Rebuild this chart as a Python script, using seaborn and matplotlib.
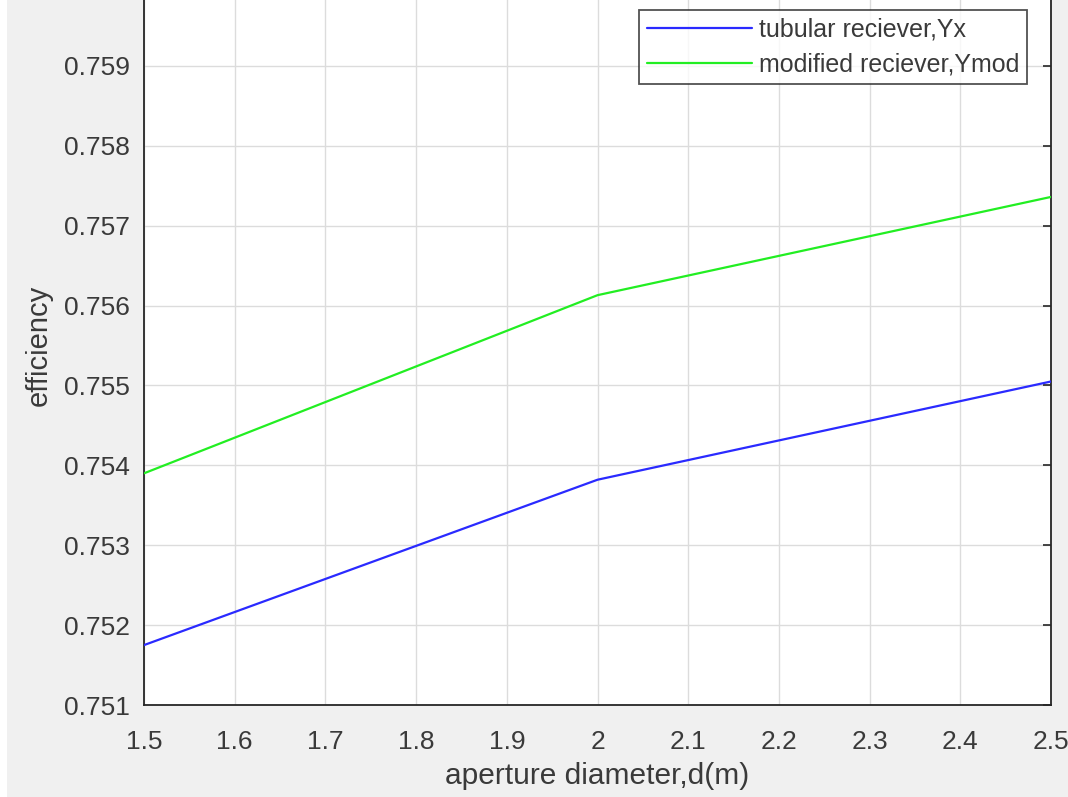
import pandas as pd
import seaborn as sns
import matplotlib.pyplot as plt
from matplotlib.patches import Rectangle

diameter = [1.5, 2.0, 2.5]
y_tubular = [0.75175, 0.75382, 0.75505]
y_modified = [0.75390, 0.75613, 0.75736]
labels = ['tubular reciever,Yx', 'modified reciever,Ymod']

df = pd.DataFrame({
    'd': diameter * 2,
    'eff': y_tubular + y_modified,
    'series': [labels[0]] * 3 + [labels[1]] * 3,
})

sns.set_style('white')
plt.rcParams['font.family'] = ['Liberation Sans', 'DejaVu Sans']

fig = plt.figure(figsize=(10.68, 7.97), dpi=100, facecolor='#f0f0f0')
fig.patches.append(Rectangle((0, 0), 7 / 1068, 1, transform=fig.transFigure,
                             facecolor='white', edgecolor='none', zorder=0))
ax = fig.add_axes([0.1348, 0.1154, 0.8494, 0.9022])

sns.lineplot(data=df, x='d', y='eff', hue='series', ax=ax,
             palette=['#2a2aff', '#22ee22'], linewidth=1.6, zorder=3)

ax.set_xlim(1.5, 2.5)
ax.set_ylim(0.751, 0.760)
ax.set_xticks([1.5, 1.6, 1.7, 1.8, 1.9, 2.0, 2.1, 2.2, 2.3, 2.4, 2.5])
ax.set_xticklabels(['1.5', '1.6', '1.7', '1.8', '1.9', '2', '2.1', '2.2', '2.3', '2.4', '2.5'])
ax.set_yticks([0.751, 0.752, 0.753, 0.754, 0.755, 0.756, 0.757, 0.758, 0.759])
ax.set_yticklabels(['0.751', '0.752', '0.753', '0.754', '0.755', '0.756', '0.757', '0.758', '0.759'])
ax.grid(True, color='#dcdcdc', linewidth=1.0)
ax.tick_params(direction='in', length=6, width=1.2, colors='#262626',
               labelsize=19, labelcolor='#3a3a3a', top=True, right=True, pad=10)
ax.tick_params(axis='x', pad=18)
for s in ax.spines.values():
    s.set_color('#262626')
    s.set_linewidth(1.3)

ax.set_xlabel('aperture diameter,d(m)', fontsize=21.5, color='#3a3a3a', labelpad=6)
ax.set_ylabel('efficiency', fontsize=21, color='#3a3a3a', labelpad=8)

leg = ax.legend(loc='upper right', bbox_to_anchor=(1027 / 1068, 1 - 10 / 797),
                bbox_transform=fig.transFigure, fontsize=18,
                frameon=True, fancybox=False, handlelength=4.2, handletextpad=0.3,
                borderpad=0.3, labelspacing=0.45, borderaxespad=0)
leg.get_frame().set_edgecolor('#262626')
leg.get_frame().set_linewidth(1.3)
for t in leg.get_texts():
    t.set_color('#3a3a3a')

fig.savefig('out.png', dpi=100, facecolor=fig.get_facecolor())
